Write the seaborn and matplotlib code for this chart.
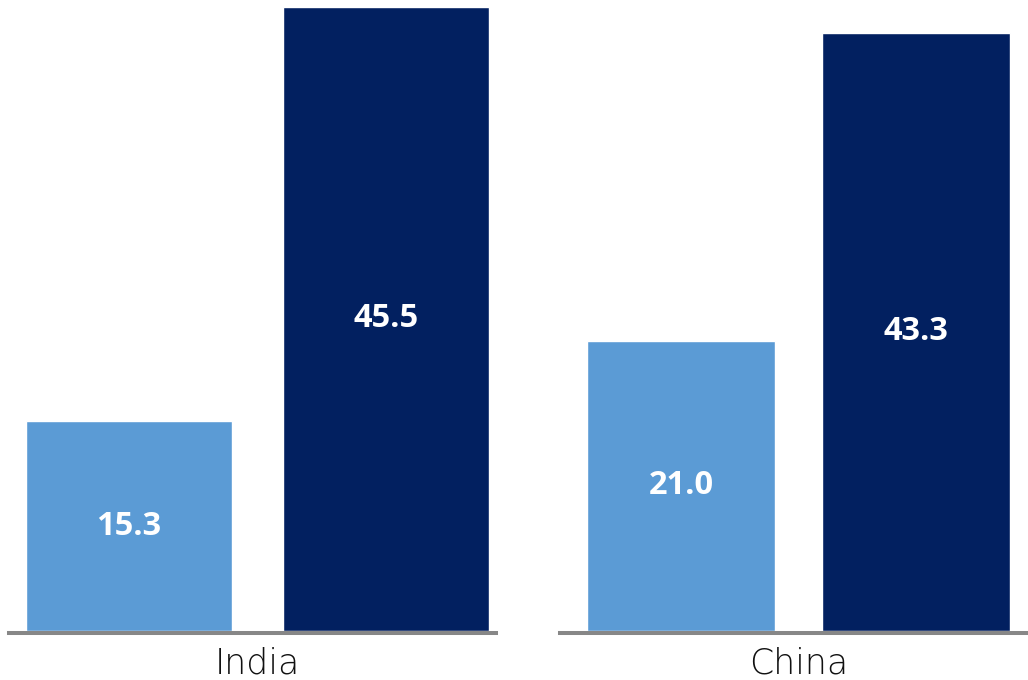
import matplotlib
matplotlib.use("Agg")
import matplotlib.pyplot as plt
import matplotlib.transforms as mtransforms
import seaborn as sns
import pandas as pd

# ---- data ----
countries = ["India", "China"]
series = ["Series 1", "Series 2"]
india_values = [15.3, 45.5]
china_values = [21.0, 43.3]
colors = ["#5B9BD5", "#022060"]

sns.set_theme(style="white")
plt.rcParams["font.family"] = ["Open Sans", "DejaVu Sans"]

W, H = 1028, 680
fig = plt.figure(figsize=(W / 100, H / 100), dpi=100)

# axes placements in pixels: (left, right, xlim, ymax)
layout = [
    (9, 496, -0.467, 1.428, 631 / 13.72),
    (560, 1028, -0.515, 1.477, 631 / 13.82),
]
data_sets = [india_values, china_values]

for (x0, x1, xl, xr, ytop), country, vals in zip(layout, countries, data_sets):
    ax = fig.add_axes([x0 / W, 49 / H, (x1 - x0) / W, 631 / H])
    df = pd.DataFrame({"series": series, "value": vals})
    sns.barplot(data=df, x="series", y="value", hue="series", palette=colors,
                legend=False, width=0.8, saturation=1, ax=ax)
    ax.set_xlim(xl, xr)
    ax.set_ylim(0, ytop)
    ax.set_xlabel("")
    ax.set_ylabel("")
    ax.set_xticks([])
    ax.set_yticks([])
    for s in ["top", "left", "right"]:
        ax.spines[s].set_visible(False)
    ax.spines["bottom"].set_color("#878787")
    ax.spines["bottom"].set_linewidth(2.9)
    ax.spines["bottom"].set_position(("outward", 1.4))
    ax.patch.set_alpha(0)
    for cont in ax.containers:
        ax.bar_label(cont, fmt="%.1f", label_type="center", color="white",
                     fontsize=23.5, fontweight="bold")
    trans = mtransforms.blended_transform_factory(ax.transData, ax.transAxes)
    ax.text(0.5, -42 / 631, country, transform=trans, ha="center",
            va="baseline", fontsize=25, color="#111111", fontweight="light",
            family=["DejaVu Sans"])

fig.savefig("out.png", dpi=100)
